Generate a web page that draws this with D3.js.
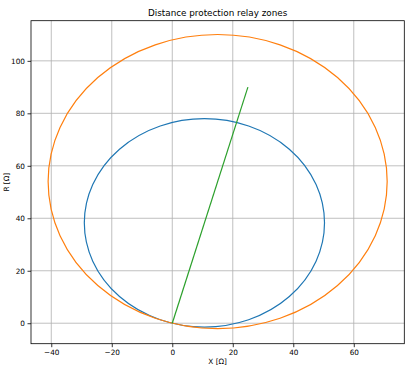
<!DOCTYPE html>
<html>
<head>
<meta charset="utf-8">
<script src="https://cdn.jsdelivr.net/npm/d3@7"></script>
<style>
  body { margin: 0; background: #fff; }
  text { font-family: "DejaVu Sans", sans-serif; fill: #000; }
</style>
</head>
<body>
<svg id="chart" width="411" height="369"></svg>
<script>
// ---- data ----
const title = "Distance protection relay zones";
const xLabel = "X [Ω]";
const yLabel = "R [Ω]";
const xTicks = [-40, -20, 0, 20, 40, 60];
const yTicks = [0, 20, 40, 60, 80, 100];
const xDomain = [-46.7, 76.7];
const yDomain = [-7.8, 115.3];
// relay zone circles: centre X, centre R, radius
const zoneNames = ["Zone 1", "Zone 2"];
const zoneCenterX = [10.625, 15.0];
const zoneCenterR = [38.25, 54.0];
const zoneRadius = [39.7, 56.04];
const zoneColors = ["#1f77b4", "#ff7f0e"];
// protected line impedance
const lineX = [0, 25];
const lineR = [0, 90];
const lineColor = "#2ca02c";

// ---- layout ----
const svg = d3.select("#chart");
const pL = 31, pR = 404.3, pT = 20.7, pB = 343.7;
const x = d3.scaleLinear().domain(xDomain).range([pL, pR]);
const y = d3.scaleLinear().domain(yDomain).range([pB, pT]);
const fmt = d => d < 0 ? "\u2212" + Math.abs(d) : String(d);

// grid
const grid = svg.append("g");
grid.selectAll(".gx").data(xTicks).join("line")
  .attr("x1", d => x(d)).attr("x2", d => x(d))
  .attr("y1", pT).attr("y2", pB)
  .attr("stroke", "#b0b0b0").attr("stroke-width", 0.8);
grid.selectAll(".gy").data(yTicks).join("line")
  .attr("y1", d => y(d)).attr("y2", d => y(d))
  .attr("x1", pL).attr("x2", pR)
  .attr("stroke", "#b0b0b0").attr("stroke-width", 0.8);

// clip
svg.append("clipPath").attr("id", "clip").append("rect")
  .attr("x", pL).attr("y", pT).attr("width", pR - pL).attr("height", pB - pT);
const plot = svg.append("g").attr("clip-path", "url(#clip)");

// zone circles
const zones = zoneNames.map((n, i) => ({ n, cx: zoneCenterX[i], cr: zoneCenterR[i], r: zoneRadius[i], c: zoneColors[i] }));
plot.selectAll("ellipse").data(zones).join("ellipse")
  .attr("cx", d => x(d.cx))
  .attr("cy", d => y(d.cr))
  .attr("rx", d => x(d.r) - x(0))
  .attr("ry", d => y(0) - y(d.r))
  .attr("fill", "none")
  .attr("stroke", d => d.c)
  .attr("stroke-width", 1.2);

// line
const linePts = lineX.map((v, i) => [v, lineR[i]]);
plot.append("path")
  .attr("d", d3.line().x(d => x(d[0])).y(d => y(d[1]))(linePts))
  .attr("fill", "none").attr("stroke", lineColor).attr("stroke-width", 1.2);

// axes
const xAxis = d3.axisBottom(x).tickValues(xTicks).tickFormat(fmt).tickSize(3.5).tickPadding(2.5);
const yAxis = d3.axisLeft(y).tickValues(yTicks).tickFormat(fmt).tickSize(3.5).tickPadding(2.5);
const gx = svg.append("g").attr("transform", `translate(0,${pB})`).call(xAxis);
const gy = svg.append("g").attr("transform", `translate(${pL},0)`).call(yAxis);
[gx, gy].forEach(g => {
  g.select(".domain").remove();
  g.selectAll("line").attr("stroke", "#000").attr("stroke-width", 0.8);
  g.selectAll("text").attr("font-family", "DejaVu Sans").attr("font-size", 7.3).attr("fill", "#000");
});

// frame
svg.append("rect").attr("x", pL).attr("y", pT).attr("width", pR - pL).attr("height", pB - pT)
  .attr("fill", "none").attr("stroke", "#000").attr("stroke-width", 0.8);

// labels
svg.append("text").attr("x", (pL + pR) / 2).attr("y", 15.5).attr("text-anchor", "middle")
  .attr("font-size", 8.8).text(title);
svg.append("text").attr("x", (pL + pR) / 2).attr("y", 364).attr("text-anchor", "middle")
  .attr("font-size", 7.3).text(xLabel);
svg.append("text").attr("transform", `translate(8.5,${(pT + pB) / 2}) rotate(-90)`).attr("text-anchor", "middle")
  .attr("font-size", 7.3).text(yLabel);
</script>
</body>
</html>
